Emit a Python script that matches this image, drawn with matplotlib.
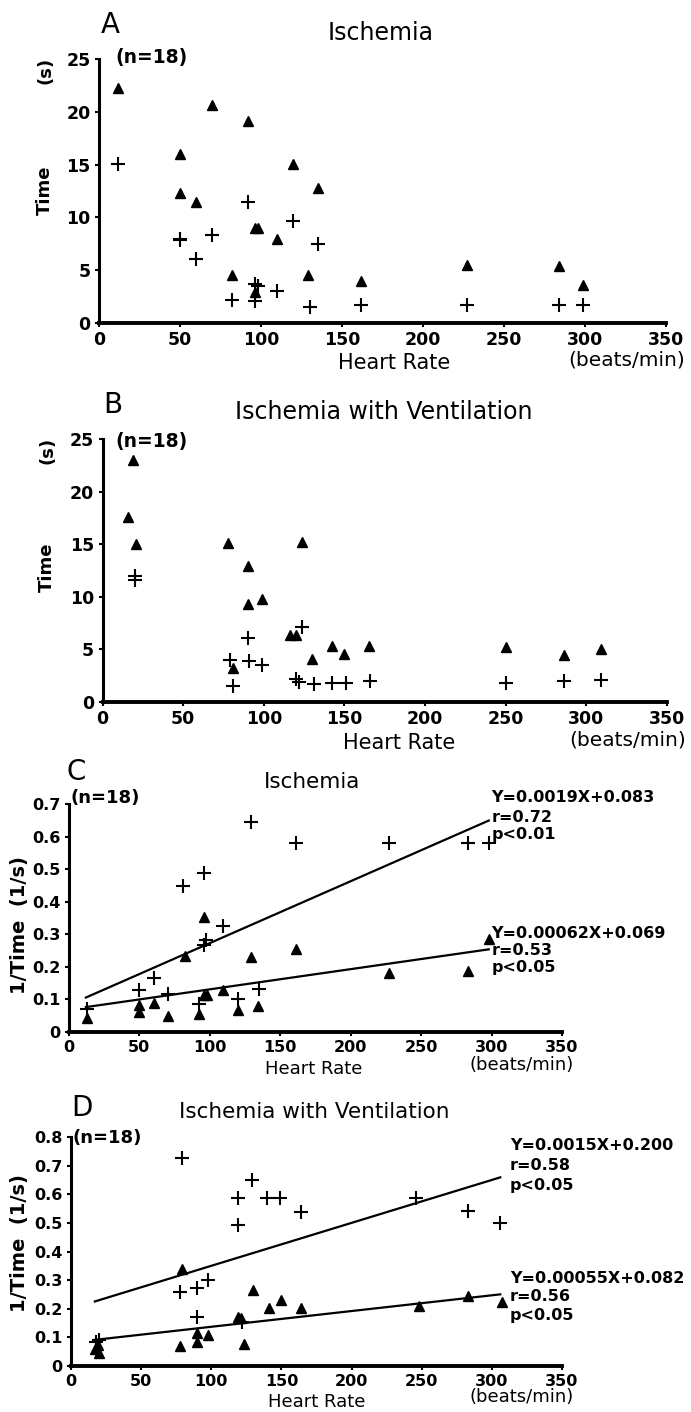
import matplotlib
matplotlib.use('Agg')
import matplotlib.pyplot as plt
import numpy as np

W, H = 691, 1412

# ---- Panel A: Ischemia, time (s) vs heart rate ----
a_tri_x = [12, 70, 92, 50, 120, 135, 50, 60, 96, 98, 110, 82, 129, 162, 227, 284, 299, 96]
a_tri_y = [22.3, 20.6, 19.1, 16.0, 15.1, 12.8, 12.3, 11.5, 9.0, 9.0, 8.0, 4.5, 4.5, 4.0, 5.5, 5.4, 3.6, 2.9]
a_crs_x = [12, 92, 120, 50, 50, 70, 135, 60, 96, 98, 110, 82, 96, 130, 162, 227, 284, 299]
a_crs_y = [15.1, 11.5, 9.7, 8.0, 7.9, 8.3, 7.5, 6.1, 3.7, 3.5, 3.0, 2.2, 2.05, 1.55, 1.7, 1.7, 1.7, 1.7]

# ---- Panel B: Ischemia with ventilation ----
b_tri_x = [19, 16, 21, 78, 124, 90, 90, 99, 116, 120, 130, 142, 150, 165, 250, 286, 309, 81]
b_tri_y = [23.0, 17.6, 15.0, 15.1, 15.2, 12.9, 9.3, 9.8, 6.4, 6.4, 4.1, 5.3, 4.6, 5.3, 5.25, 4.5, 5.0, 3.2]
b_crs_x = [20, 20, 90, 79, 91, 99, 81, 124, 120, 122, 131, 142, 151, 166, 250, 286, 309]
b_crs_y = [12.0, 11.6, 6.1, 4.0, 3.9, 3.5, 1.5, 7.1, 2.2, 1.9, 1.7, 1.8, 1.8, 2.0, 1.8, 2.0, 2.1]

# ---- Panel C: Ischemia, 1/time ----
c_tri_x = [13, 50, 50, 60, 70, 82, 92, 96, 96, 98, 109, 120, 129, 134, 161, 227, 283, 298]
c_tri_y = [0.043, 0.061, 0.082, 0.089, 0.048, 0.233, 0.054, 0.353, 0.113, 0.113, 0.130, 0.067,
           0.230, 0.079, 0.256, 0.181, 0.187, 0.284]
c_crs_x = [13, 50, 60, 70, 81, 96, 97, 96, 109, 129, 120, 135, 92, 161, 227, 283, 298]
c_crs_y = [0.072, 0.128, 0.166, 0.118, 0.448, 0.487, 0.282, 0.266, 0.326, 0.645, 0.102, 0.133,
           0.087, 0.581, 0.581, 0.581, 0.581]

# ---- Panel D: Ischemia with ventilation, 1/time ----
d_tri_x = [79, 130, 141, 150, 164, 119, 121, 248, 283, 307, 90, 98, 90, 78, 123, 17, 20, 19]
d_tri_y = [0.340, 0.267, 0.203, 0.230, 0.201, 0.172, 0.168, 0.210, 0.244, 0.222, 0.116, 0.108,
           0.083, 0.070, 0.077, 0.058, 0.044, 0.072]
d_crs_x = [79, 129, 119, 119, 140, 149, 164, 246, 283, 306, 78, 90, 98, 90, 122, 18, 20]
d_crs_y = [0.728, 0.649, 0.587, 0.492, 0.587, 0.587, 0.538, 0.588, 0.542, 0.500, 0.260, 0.271,
           0.302, 0.170, 0.155, 0.085, 0.090]

# regression fits (slope, intercept, x range) and their captions
c_fits = [(0.0019, 0.083, 12, 298), (0.00062, 0.069, 12, 298)]
c_notes = [["Y=0.0019X+0.083", "r=0.72", "p<0.01"], ["Y=0.00062X+0.069", "r=0.53", "p<0.05"]]
d_fits = [(0.0015, 0.200, 17, 306), (0.00055, 0.082, 17, 306)]
d_notes = [["Y=0.0015X+0.200", "r=0.58", "p<0.05"], ["Y=0.00055X+0.082", "r=0.56", "p<0.05"]]

x_ticks = [0, 50, 100, 150, 200, 250, 300, 350]
time_ticks = [0, 5, 10, 15, 20, 25]
c_ticks = [0, 0.1, 0.2, 0.3, 0.4, 0.5, 0.6, 0.7]
d_ticks = [0, 0.1, 0.2, 0.3, 0.4, 0.5, 0.6, 0.7, 0.8]


def box(left, bottom, right, top):
    # pixel box -> figure fraction rect
    return [left / W, 1 - bottom / H, (right - left) / W, (bottom - top) / H]


def ftext(fig, x, y, s, **kw):
    fig.text(x / W, 1 - y / H, s, **kw)


def make_axes(fig, rect, yticks, tsize):
    ax = fig.add_axes(rect)
    ax.set_xlim(0, 350)
    ax.set_ylim(0, yticks[-1])
    ax.set_xticks(x_ticks)
    ax.set_yticks(yticks)
    ax.set_yticklabels(['0'] + [('%g' % v) for v in yticks[1:]])
    for s in ['top', 'right']:
        ax.spines[s].set_visible(False)
    ax.spines['left'].set_linewidth(2.2)
    ax.spines['bottom'].set_linewidth(2.8)
    ax.tick_params(direction='out', length=3, width=1.5, pad=3,
                   labelsize=tsize)
    for lab in ax.get_xticklabels() + ax.get_yticklabels():
        lab.set_fontweight('bold')
    ax.patch.set_alpha(0)
    return ax


def draw_points(ax, tx, ty, cx, cy):
    ax.plot(tx, ty, '^', color='k', ms=7, ls='none', clip_on=False)
    ax.plot(cx, cy, '+', color='k', ms=10, mew=1.5, ls='none', clip_on=False)


def draw_fits(ax, fits, notes, xt, ys):
    for (m, b, x0, x1) in fits:
        xx = np.array([x0, x1])
        ax.plot(xx, m * xx + b, color='k', lw=1.6)
    for lines, yy in zip(notes, ys):
        for s, y in zip(lines, yy):
            ax.text(xt, y, s, fontsize=11.5, fontweight='bold', va='center', ha='left')


fig = plt.figure(figsize=(W / 100, H / 100), dpi=100)

# Panel A
axA = make_axes(fig, box(99, 323, 666, 59), time_ticks, 12.5)
draw_points(axA, a_tri_x, a_tri_y, a_crs_x, a_crs_y)
ftext(fig, 101, 25, "A", fontsize=20, va='center', ha='left')
ftext(fig, 381, 33, "Ischemia", fontsize=17, va='center', ha='center')
ftext(fig, 115, 58, "(n=18)", fontsize=13.5, fontweight='bold', va='center', ha='left')
ftext(fig, 45, 70, "(s)", fontsize=13, fontweight='bold', rotation=90, va='center', ha='center')
ftext(fig, 45, 190, "Time", fontsize=13, fontweight='bold', rotation=90, va='center', ha='center')
ftext(fig, 394, 363, "Heart Rate", fontsize=15, va='center', ha='center')
ftext(fig, 685, 351, "(beats/min)", fontsize=14.5, va='top', ha='right')

# Panel B
axB = make_axes(fig, box(102.5, 702, 667, 439), time_ticks, 12.5)
draw_points(axB, b_tri_x, b_tri_y, b_crs_x, b_crs_y)
ftext(fig, 103, 405, "B", fontsize=20, va='center', ha='left')
ftext(fig, 384, 412, "Ischemia with Ventilation", fontsize=17, va='center', ha='center')
ftext(fig, 115, 442, "(n=18)", fontsize=13.5, fontweight='bold', va='center', ha='left')
ftext(fig, 47, 450, "(s)", fontsize=13, fontweight='bold', rotation=90, va='center', ha='center')
ftext(fig, 47, 567, "Time", fontsize=13, fontweight='bold', rotation=90, va='center', ha='center')
ftext(fig, 399, 743, "Heart Rate", fontsize=15, va='center', ha='center')
ftext(fig, 686, 731, "(beats/min)", fontsize=14.5, va='top', ha='right')

# Panel C
axC = make_axes(fig, box(69, 1032, 562, 804), c_ticks, 11.5)
draw_points(axC, c_tri_x, c_tri_y, c_crs_x, c_crs_y)
draw_fits(axC, c_fits, c_notes, 300, [[0.721, 0.660, 0.605], [0.302, 0.251, 0.198]])
ftext(fig, 67, 772, "C", fontsize=20, va='center', ha='left')
ftext(fig, 312, 782, "Ischemia", fontsize=15.5, va='center', ha='center')
ftext(fig, 70, 798, "(n=18)", fontsize=13, fontweight='bold', va='center', ha='left')
ftext(fig, 20, 925, "1/Time  (1/s)", fontsize=14, fontweight='bold', rotation=90,
      va='center', ha='center')
ftext(fig, 314, 1069, "Heart Rate", fontsize=13, va='center', ha='center')
ftext(fig, 574, 1056, "(beats/min)", fontsize=13, va='top', ha='right')

# Panel D
axD = make_axes(fig, box(71, 1366, 562, 1137), d_ticks, 11.5)
draw_points(axD, d_tri_x, d_tri_y, d_crs_x, d_crs_y)
draw_fits(axD, d_fits, d_notes, 313, [[0.771, 0.700, 0.631], [0.306, 0.242, 0.178]])
ftext(fig, 71, 1108, "D", fontsize=20, va='center', ha='left')
ftext(fig, 314, 1112, "Ischemia with Ventilation", fontsize=15.5, va='center', ha='center')
ftext(fig, 73, 1138, "(n=18)", fontsize=13, fontweight='bold', va='center', ha='left')
ftext(fig, 20, 1243, "1/Time  (1/s)", fontsize=14, fontweight='bold', rotation=90,
      va='center', ha='center')
ftext(fig, 317, 1402, "Heart Rate", fontsize=13, va='center', ha='center')
ftext(fig, 574, 1388, "(beats/min)", fontsize=13, va='top', ha='right')

fig.savefig('out.png', dpi=100)
